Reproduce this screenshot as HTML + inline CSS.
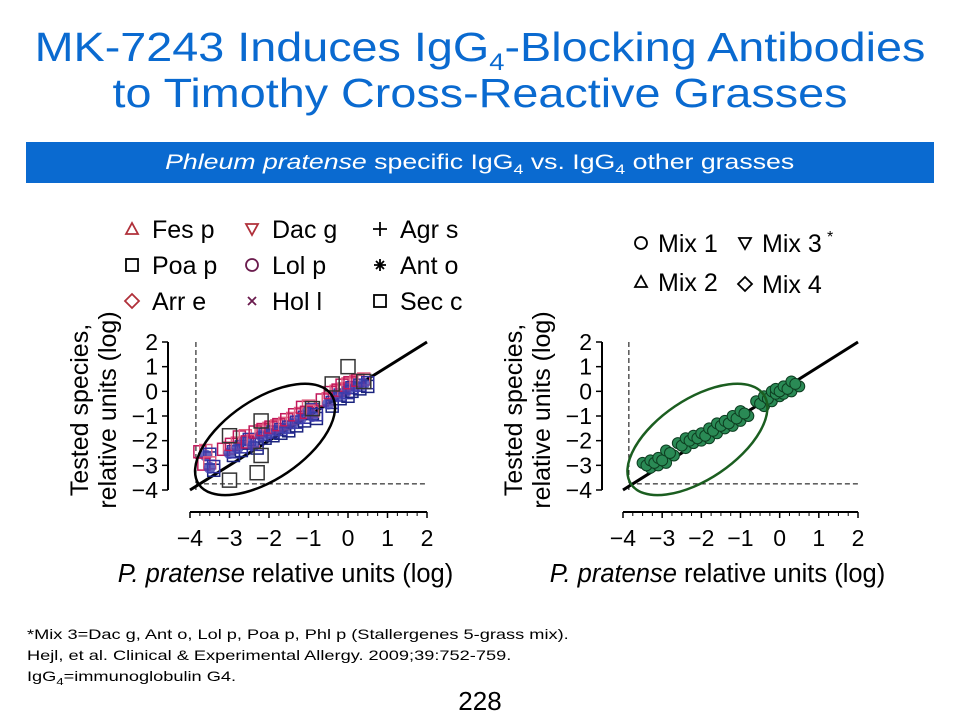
<!DOCTYPE html>
<html><head><meta charset="utf-8"><style>
body{margin:0;background:#fff;width:960px;height:720px;overflow:hidden;font-family:"Liberation Sans",sans-serif;position:relative}
.t{position:absolute;left:0;width:960px;text-align:center;color:#0a6ad0;font-size:41px;line-height:44px;transform:scaleX(1.14);transform-origin:480px 0}
#banner{position:absolute;left:26px;top:142px;width:908px;height:41px;background:#0a6ad0;color:#fff;font-size:21px;line-height:41px;text-align:center}
#banner span{display:inline-block;transform:scaleX(1.27)}
#foot{position:absolute;left:27px;top:624px;font-size:14px;line-height:21px;color:#000;transform:scaleX(1.3);transform-origin:0 0}
#page{position:absolute;left:0;width:960px;top:686px;text-align:center;font-size:26px}
svg{position:absolute;left:0;top:0}
</style></head><body>
<div class="t" style="top:25px">MK-7243 Induces IgG<sub style="font-size:24px">4</sub>-Blocking Antibodies</div>
<div class="t" style="top:71px">to Timothy Cross-Reactive Grasses</div>
<div id="banner"><span><i>Phleum pratense</i> specific IgG<sub style="font-size:14px">4</sub> vs. IgG<sub style="font-size:14px">4</sub> other grasses</span></div>
<svg id="chart" width="960" height="720" font-family="Liberation Sans, sans-serif"></svg>
<div id="foot">*Mix 3=Dac g, Ant o, Lol p, Poa p, Phl p (Stallergenes 5-grass mix).<br>Hejl, et al. Clinical &amp; Experimental Allergy. 2009;39:752-759.<br>IgG<sub style="font-size:10px">4</sub>=immunoglobulin G4.</div>
<div id="page">228</div>
<script>
const xTicks=[-4,-3,-2,-1,0,1,2];
const yTicks=[2,1,0,-1,-2,-3,-4];
const leftSeriesNames=["Fes p","Poa p","Arr e","Dac g","Lol p","Hol l","Agr s","Ant o","Sec c"];
const leftX=[-3.6,-3.5,-3.0,-2.8,-2.6,-2.4,-2.2,-2.0,-1.8,-1.6,-1.4,-1.2,-1.0,-0.9,-0.5,-0.3,-0.1,0.0,0.2,0.4];
const leftY=[-2.6,-3.1,-2.5,-2.3,-2.0,-2.2,-1.8,-1.7,-1.6,-1.5,-1.3,-1.1,-0.8,-1.0,-0.5,-0.2,-0.1,0.1,0.2,0.3];
const leftOutX=[-3.0,-2.3,-2.2,-0.4,0.0,0.4,-3.0,-2.2,-0.9];
const leftOutY=[-3.6,-3.3,-1.2,0.3,1.0,0.4,-1.8,-2.6,-0.7];
const rightSeriesNames=["Mix 1","Mix 2","Mix 3","Mix 4"];
const rightX=[-3.4,-3.2,-3.0,-2.8,-2.5,-2.3,-2.1,-1.9,-1.7,-1.5,-1.3,-1.1,-0.9,-0.5,-0.3,-0.1,0.0,0.2,0.4];
const rightY=[-3.0,-2.9,-2.8,-2.5,-2.2,-2.0,-1.9,-1.8,-1.6,-1.4,-1.3,-1.1,-0.9,-0.5,-0.3,-0.1,0.0,0.1,0.3];
const svg=document.getElementById('chart');const NS='http://www.w3.org/2000/svg';
function mk(t,a,p){const e=document.createElementNS(NS,t);for(const k in a)e.setAttribute(k,a[k]);(p||svg).appendChild(e);return e;}
function panel(x0,x1,ax,name){
 const sx=v=>x0+(v+4)*(x1-x0)/6, sy=v=>490-(v+4)*148/6;
 const g=mk('g',{});
 
 
 mk('line',{x1:ax,y1:342,x2:ax,y2:490,stroke:'#000','stroke-width':2},g);
 yTicks.forEach(v=>{mk('line',{x1:ax-6,y1:sy(v),x2:ax,y2:sy(v),stroke:'#000','stroke-width':1.5},g);
  const t=mk('text',{x:ax-10,y:sy(v)+8,'text-anchor':'end','font-size':23},g);t.textContent=(v<0?'\u2212'+(-v):v);
  
  });
 mk('line',{x1:sx(-4),y1:512,x2:sx(2),y2:512,stroke:'#000','stroke-width':2},g);
 xTicks.forEach(v=>{mk('line',{x1:sx(v),y1:512,x2:sx(v),y2:518,stroke:'#000','stroke-width':1.5},g);
  const t=mk('text',{x:sx(v),y:546,'text-anchor':'middle','font-size':23},g);t.textContent=(v<0?'\u2212'+(-v):v);
  
  });
 for(let i=-4;i<2;i+=0.25)mk('line',{x1:sx(i),y1:512,x2:sx(i),y2:516,stroke:'#000'},g);
 mk('line',{x1:sx(-3.85),y1:342,x2:sx(-3.85),y2:490,stroke:'#000','stroke-dasharray':'5,3'},g);
 mk('line',{x1:sx(-3.85),y1:sy(-3.75),x2:sx(2),y2:sy(-3.75),stroke:'#000','stroke-dasharray':'5,3'},g);
 mk('line',{x1:sx(-4),y1:sy(-4),x2:sx(2),y2:sy(2),stroke:'#000','stroke-width':3},g);
 const yl=mk('text',{transform:`translate(${ax-80},410) rotate(-90)`,'text-anchor':'middle','font-size':25},g);yl.textContent='Tested species,';
 
 
 const yl2=mk('text',{transform:`translate(${ax-52},410) rotate(-90)`,'text-anchor':'middle','font-size':25},g);yl2.textContent='relative units (log)';
 
 
 const xl=mk('text',{x:(sx(-4)+sx(2))/2-23,y:582,'text-anchor':'middle','font-size':25.5},g);xl.innerHTML='<tspan font-style="italic">P. pratense</tspan> relative units (log)';
 
 
 return {g,sx,sy};
}
const L=panel(190,427,168,'left-plot');
leftX.forEach((x,i)=>{const y=leftY[i];
 [[-0.15,0.15,'#c2185b'],[0.1,-0.1,'#1a237e'],[0,0.2,'#e06080'],[0.1,0.05,'#3030a0']].forEach(o=>{
  const m=mk('rect',{x:L.sx(x+o[0])-6,y:L.sy(y+o[1])-6,width:12,height:12,fill:'none',stroke:o[2],'stroke-width':1.5},L.g);
  
  });
 const c=mk('circle',{cx:L.sx(x),cy:L.sy(y),r:6,fill:'#4040b0',opacity:0.8},L.g);
 
 });
leftOutX.forEach((x,i)=>{const m=mk('rect',{x:L.sx(x)-7,y:L.sy(leftOutY[i])-7,width:14,height:14,fill:'none',stroke:'#333','stroke-width':1.5},L.g);
 
 });
const le=mk('ellipse',{cx:0,cy:0,rx:80,ry:40,fill:'none',stroke:'#000','stroke-width':2.5,transform:`translate(${L.sx(-2.1)},${L.sy(-1.95)}) rotate(-34)`},L.g);


const R=panel(623,858,602,'right-plot');
rightX.forEach((x,i)=>{const y=rightY[i];
 [[-0.1,0.1],[0.1,-0.1],[0,0]].forEach(o=>{
  const m=mk('circle',{cx:R.sx(x+o[0]),cy:R.sy(y+o[1]),r:5.5,fill:'#2a8a55',stroke:'#0d3d20','stroke-width':1},R.g);
  
  });});
const re=mk('ellipse',{cx:0,cy:0,rx:80,ry:40,fill:'none',stroke:'#1b5e20','stroke-width':2.5,transform:`translate(${R.sx(-2.1)},${R.sy(-1.95)}) rotate(-34)`},R.g);


const lg=[[132,229,'tri','#b0303a'],[132,265,'sq','#000'],[132,301,'dia','#b0303a'],[252,229,'itri','#b0303a'],[252,265,'circ','#6a1b4d'],[252,301,'x','#6a1b4d'],[380,229,'plus','#000'],[380,265,'star','#000'],[380,301,'sq','#000']];
function sym(x,y,s,c,p){const a={fill:'none',stroke:c,'stroke-width':1.8};let e;
 if(s=='tri')e=mk('polygon',Object.assign({points:`${x-6},${y+5} ${x+6},${y+5} ${x},${y-6}`},a),p);
 else if(s=='itri')e=mk('polygon',Object.assign({points:`${x-6},${y-5} ${x+6},${y-5} ${x},${y+6}`},a),p);
 else if(s=='sq')e=mk('rect',Object.assign({x:x-6,y:y-6,width:12,height:12},a),p);
 else if(s=='dia')e=mk('polygon',Object.assign({points:`${x},${y-7} ${x+7},${y} ${x},${y+7} ${x-7},${y}`},a),p);
 else if(s=='circ')e=mk('circle',Object.assign({cx:x,cy:y,r:6},a),p);
 else if(s=='x')e=mk('path',Object.assign({d:`M${x-4} ${y-4}L${x+4} ${y+4}M${x-4} ${y+4}L${x+4} ${y-4}`},a),p);
 else if(s=='plus')e=mk('path',Object.assign({d:`M${x-7} ${y}H${x+7}M${x} ${y-7}V${y+7}`},a),p);
 else e=mk('path',Object.assign({d:`M${x-6} ${y}H${x+6}M${x} ${y-6}V${y+6}M${x-4} ${y-4}L${x+4} ${y+4}M${x-4} ${y+4}L${x+4} ${y-4}`},a),p);
 return e;}
leftSeriesNames.forEach((n,i)=>{const d=lg[i];const g=mk('g',{});
 
 
 sym(d[0],d[1],d[2],d[3],g);const t=mk('text',{x:d[0]+20,y:d[1]+9,'font-size':25},g);t.textContent=n;});
const rl=[[641,243,'circ'],[641,282,'tri'],[745,243,'itri'],[745,284,'dia']];
rightSeriesNames.forEach((n,i)=>{const d=rl[i];const g=mk('g',{});
 
 
 sym(d[0],d[1],d[2],'#000',g);const t=mk('text',{x:d[0]+17,y:d[1]+9,'font-size':25},g);t.textContent=n;});
const st=mk('text',{x:827,y:242,'font-size':16});st.textContent='*';


</script>
</body></html>
